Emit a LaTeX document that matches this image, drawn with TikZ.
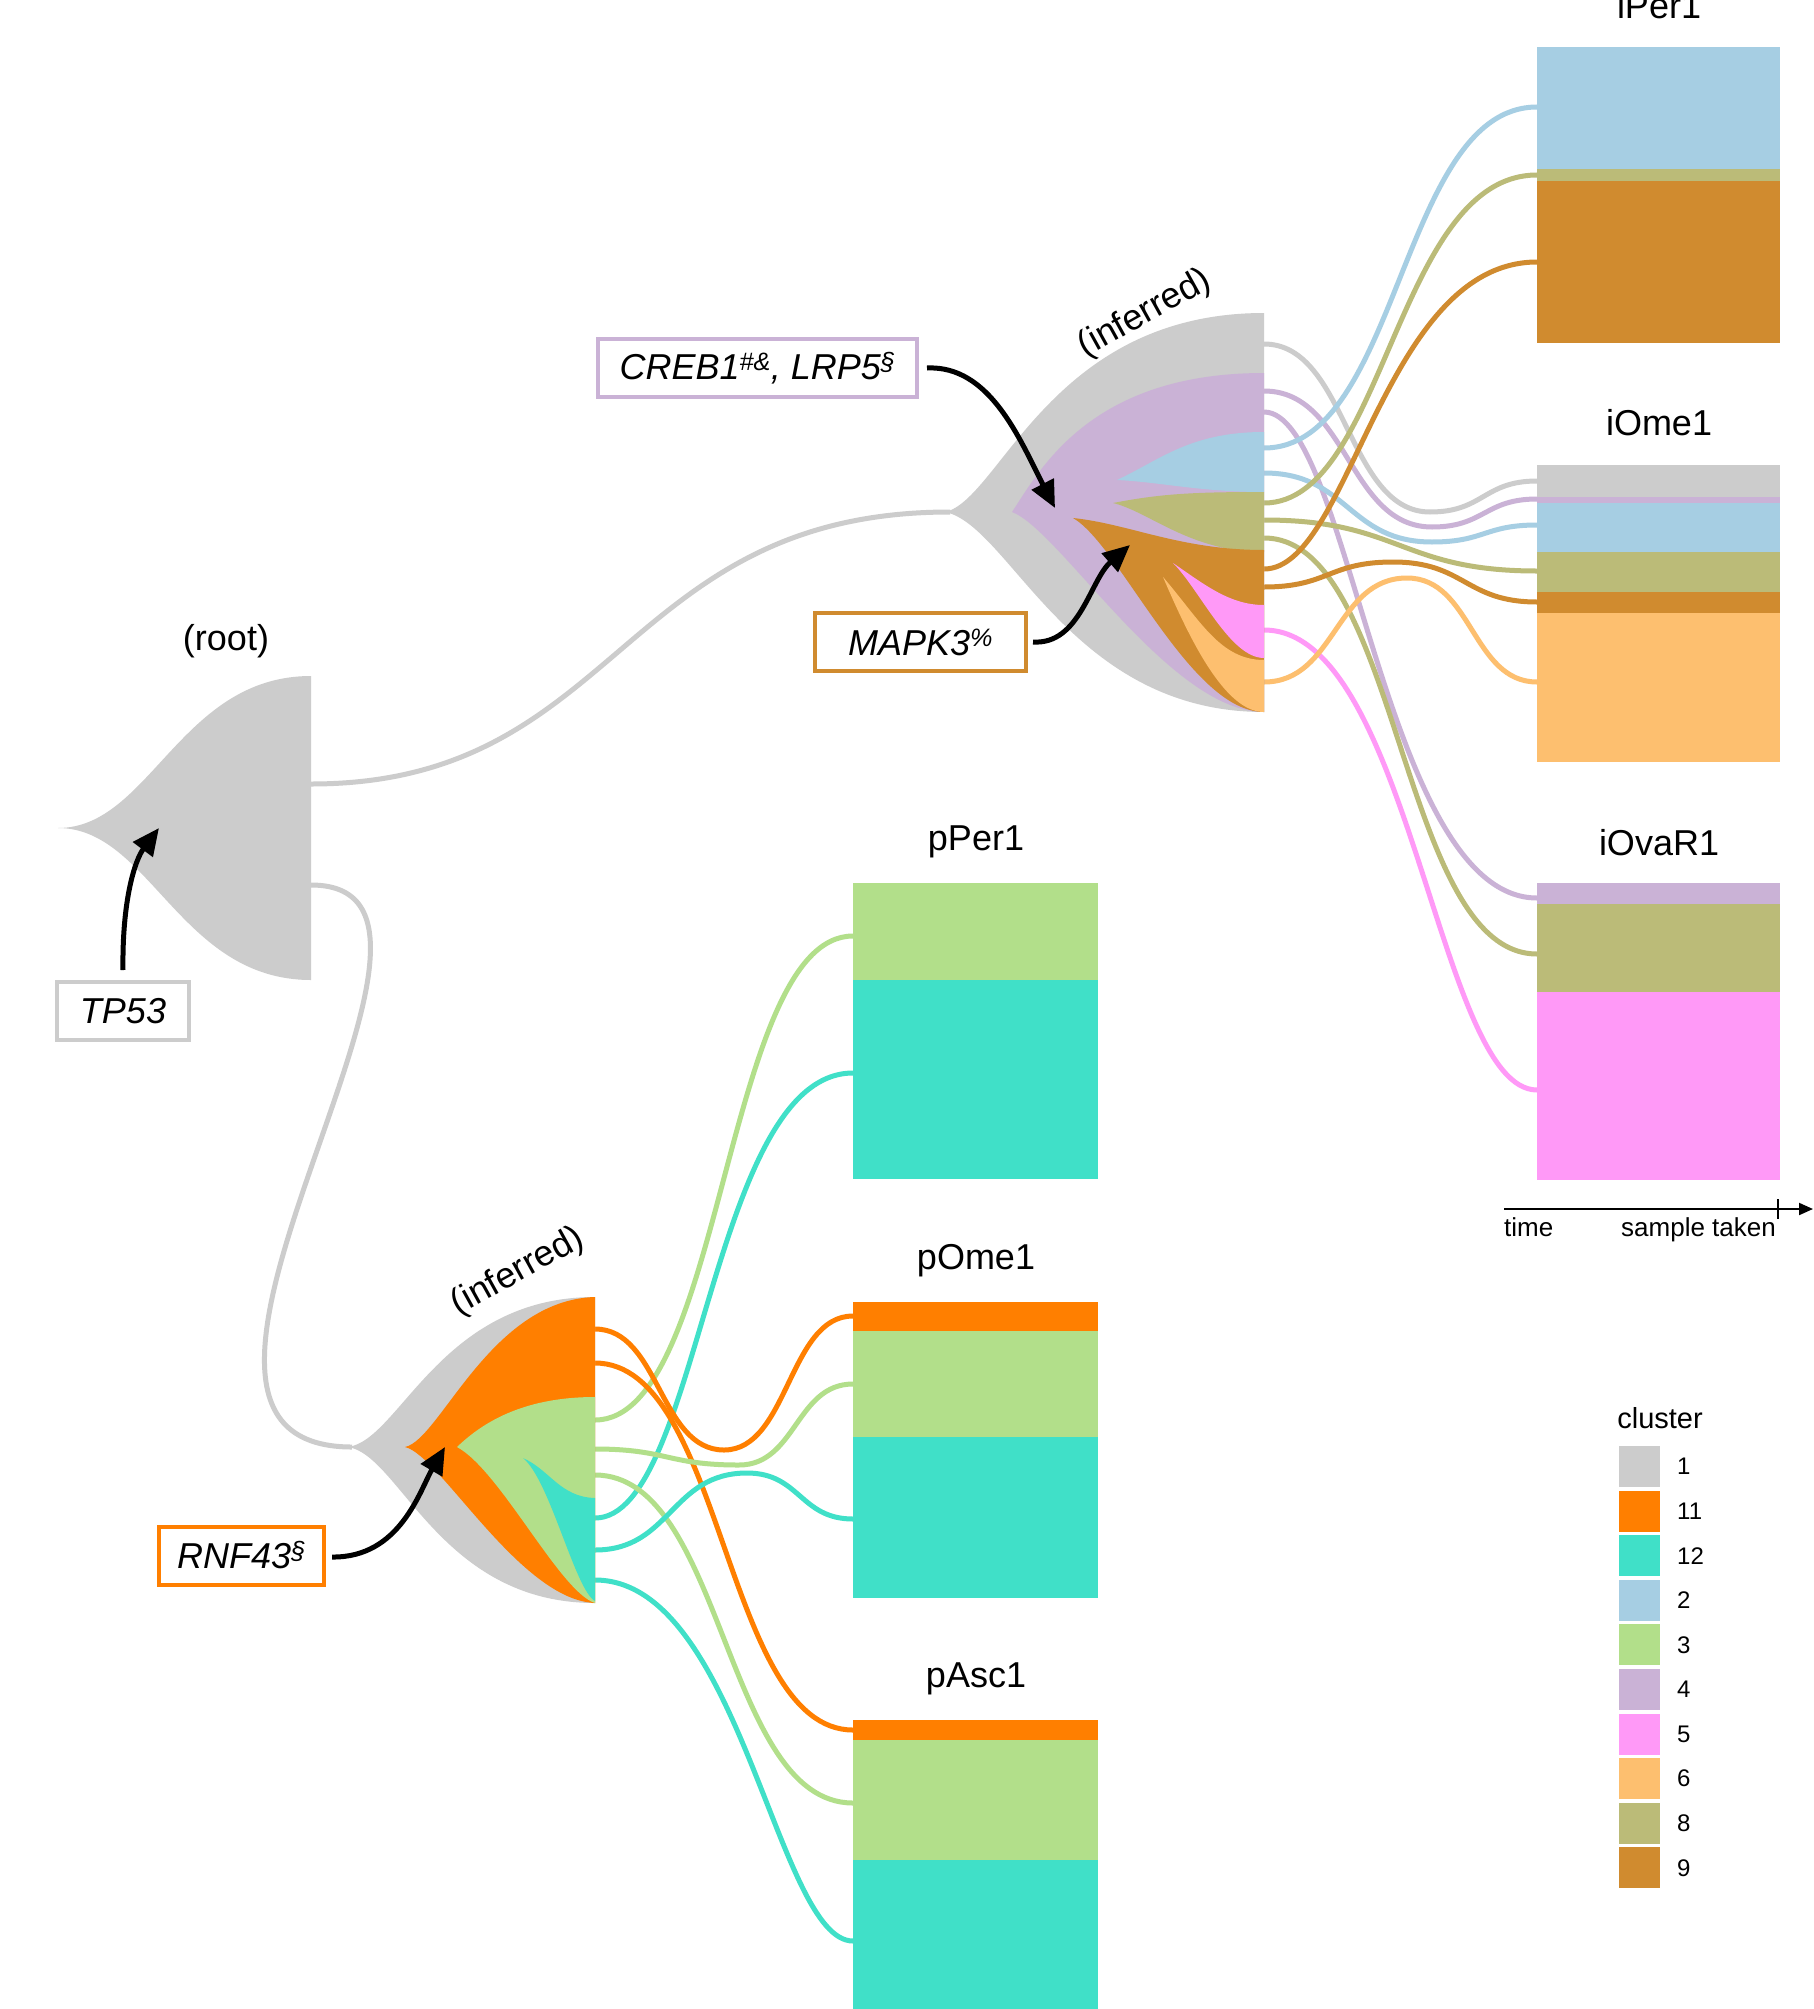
\documentclass[tikz,border=0pt]{standalone}
\usepackage{fontspec}
\setmainfont{Liberation Sans}
\usetikzlibrary{arrows.meta}
\definecolor{c1}{HTML}{CCCCCC}
\definecolor{c11}{HTML}{FF7F00}
\definecolor{c12}{HTML}{40E0C8}
\definecolor{c2}{HTML}{A6CEE3}
\definecolor{c3}{HTML}{B2DF8A}
\definecolor{c4}{HTML}{CAB2D6}
\definecolor{c5}{HTML}{FF99F7}
\definecolor{c6}{HTML}{FDBF6F}
\definecolor{c8}{HTML}{BBBB78}
\definecolor{c9}{HTML}{D08B2F}
% simple sigmoid link: colour, x0,y0, x1,y1, control-x near start, control-x near end
\newcommand\linkS[7]{\draw[flow,#1] (#2,#3) .. controls (#6,#3) and (#7,#5) .. (#4,#5);}
% link through a waypoint: colour, x0,y0, xw,yw, x1,y1
\newcommand\linkD[7]{\draw[flow,#1] (#2,#3) .. controls ({(#2+#4)/2},#3) and ({(#2+#4)/2},#5) .. (#4,#5) .. controls ({(#4+#6)/2},#5) and ({(#4+#6)/2},#7) .. (#6,#7);}
\tikzset{
  flow/.style={line width=5pt},
  lbl/.style={font=\fontsize{36}{43}\selectfont, inner sep=0pt},
  gene/.style={font=\fontsize{36}{43}\selectfont\itshape, line width=4pt, fill=white, minimum height=58pt, inner sep=0pt},
  mut/.style={line width=5pt, -{Triangle[length=27pt,width=24pt]}},
  small/.style={font=\fontsize{26}{31}\selectfont, inner sep=0pt},
}
\begin{document}
\begin{tikzpicture}[x=1pt,y=-1pt]
\useasboundingbox (0,0) rectangle (1813,2009);
\fill[white] (0,0) rectangle (1813,2009);

% ---------- links from root ----------
\draw[flow,c1] (311,784) .. controls (620,784) and (620,512) .. (950,512);
\draw[flow,c1] (311,885) .. controls (520,885) and (90,1447) .. (352,1447);

% ---------- links from upper inferred node ----------
\linkS{c4}{1264}{412}{1537}{898}{1350}{1383}
\linkS{c8}{1264}{538}{1537}{954}{1400}{1400}
\linkS{c5}{1264}{630}{1537}{1090}{1410}{1438}
\linkD{c1}{1264}{344}{1430}{512}{1537}{481}
\linkD{c4}{1264}{391}{1432}{527}{1537}{499}
\linkD{c2}{1264}{473}{1432}{542}{1537}{525}
\linkS{c8}{1264}{520}{1537}{571}{1400}{1400}
\linkD{c9}{1264}{587}{1393}{562}{1537}{602}
\linkD{c6}{1264}{682}{1407}{578}{1537}{682}
\linkS{c2}{1264}{448}{1537}{107}{1400}{1400}
\linkS{c8}{1264}{503}{1537}{175}{1385}{1396}
\linkS{c9}{1264}{569}{1537}{262}{1350}{1383}

% ---------- links from lower inferred node ----------
\linkS{c3}{595}{1420}{853}{936}{724}{724}
\linkS{c12}{595}{1518}{853}{1073}{700}{710}
\linkS{c11}{595}{1363}{853}{1730}{724}{724}
\linkS{c3}{595}{1475}{853}{1803}{724}{724}
\linkS{c12}{595}{1580}{853}{1941}{740}{777}
\linkD{c11}{595}{1329}{724}{1450}{853}{1316}
\linkD{c3}{595}{1449}{739}{1465}{853}{1384}
\linkD{c12}{595}{1550}{747}{1473}{853}{1519}

% ---------- root node ----------
\fill[c1] (58,828) .. controls (150,828) and (180,676) .. (311,676) -- (311,980) .. controls (180,980) and (150,828) .. cycle;
\node[lbl] (rootlbl) at (226,641) {(root)};

% ---------- upper inferred node ----------
\fill[c1] (945,512) .. controls (1000,500) and (1050,313) .. (1264,313) -- (1264,712) .. controls (1070,712) and (1010,525) .. cycle;
\fill[c4] (1012,512) .. controls (1040,470) and (1090,373) .. (1264,373) -- (1264,712) .. controls (1170,712) and (1060,530) .. cycle;
\fill[c2] (1117,480) .. controls (1160,460) and (1190,432) .. (1264,432) -- (1264,492) .. controls (1200,492) and (1160,482) .. cycle;
\fill[c8] (1113,503) .. controls (1160,494) and (1190,492) .. (1264,492) -- (1264,552) .. controls (1190,552) and (1150,512) .. cycle;
\fill[c9] (1073,518) .. controls (1130,524) and (1180,550) .. (1264,550) -- (1264,712) .. controls (1190,712) and (1120,545) .. cycle;
\fill[c6] (1163,577) .. controls (1200,620) and (1220,660) .. (1264,660) -- (1264,712) .. controls (1225,712) and (1190,640) .. cycle;
\fill[c5] (1173,563) .. controls (1205,585) and (1230,605) .. (1264,605) -- (1264,658) .. controls (1230,658) and (1200,590) .. cycle;
\node[lbl,rotate=29] (inflblU) at (1145,314) {(inferred)};

% ---------- lower inferred node ----------
\fill[c1] (348,1447) .. controls (400,1440) and (440,1297) .. (595,1297) -- (595,1603) .. controls (440,1603) and (400,1455) .. cycle;
\fill[c11] (405,1447) .. controls (440,1440) and (490,1300) .. (595,1297) -- (595,1603) .. controls (520,1600) and (440,1455) .. cycle;
\fill[c3] (457,1447) .. controls (480,1425) and (520,1397) .. (595,1397) -- (595,1603) .. controls (560,1592) and (500,1470) .. cycle;
\fill[c12] (523,1458) .. controls (550,1470) and (560,1497) .. (595,1498) -- (595,1601) .. controls (575,1590) and (550,1480) .. cycle;
\node[lbl,rotate=29] (inflblL) at (518,1272) {(inferred)};

% ---------- sample boxes (right) ----------
\fill[c2] (1537,47) rectangle (1780,169);
\fill[c8] (1537,169) rectangle (1780,181);
\fill[c9] (1537,181) rectangle (1780,343);
\node[lbl] (iPer) at (1659,6) {iPer1};

\fill[c1] (1537,465) rectangle (1780,497);
\fill[c4] (1537,497) rectangle (1780,503);
\fill[c2] (1537,503) rectangle (1780,552);
\fill[c8] (1537,552) rectangle (1780,592);
\fill[c9] (1537,592) rectangle (1780,613);
\fill[c6] (1537,613) rectangle (1780,762);
\node[lbl] (iOme) at (1659,423) {iOme1};

\fill[c4] (1537,883) rectangle (1780,904);
\fill[c8] (1537,904) rectangle (1780,992);
\fill[c5] (1537,992) rectangle (1780,1180);
\node[lbl] (iOva) at (1659,843) {iOvaR1};

% ---------- sample boxes (left) ----------
\fill[c3] (853,883) rectangle (1098,980);
\fill[c12] (853,980) rectangle (1098,1179);
\node[lbl] (pPer) at (976,842) {pPer1};

\fill[c11] (853,1302) rectangle (1098,1331);
\fill[c3] (853,1331) rectangle (1098,1437);
\fill[c12] (853,1437) rectangle (1098,1598);
\node[lbl] (pOme) at (976,1261) {pOme1};

\fill[c11] (853,1720) rectangle (1098,1740);
\fill[c3] (853,1740) rectangle (1098,1860);
\fill[c12] (853,1860) rectangle (1098,2020);
\node[lbl] (pAsc) at (976,1679) {pAsc1};

% ---------- gene boxes and arrows ----------
\node[gene,draw=c1,minimum width=132pt] (tp53) at (123,1011) {TP53};
\node[gene,draw=c4,minimum width=319pt] (creb) at (757.5,368) {CREB1\textsuperscript{\#\&}, LRP5\textsuperscript{\S}};
\node[gene,draw=c9,minimum width=211pt] (mapk) at (920.5,642) {MAPK3\textsuperscript{\%}};
\node[gene,draw=c11,minimum width=165pt] (rnf) at (241.5,1555.5) {RNF43\textsuperscript{\S}};

\coordinate (tipRoot) at (159,828);
\coordinate (tipCreb) at (1055,508);
\coordinate (tipMapk) at (1130,545);
\coordinate (tipRnf) at (445,1447);

\draw[mut] (123,970) .. controls (122,900) and (135,860) .. (tipRoot);
\draw[mut] (927,368) .. controls (990,365) and (1020,440) .. (tipCreb);
\draw[mut] (1033,642) .. controls (1080,645) and (1090,580) .. (tipMapk);
\draw[mut] (332,1557) .. controls (400,1558) and (420,1490) .. (tipRnf);

% ---------- time axis ----------
\coordinate (tstart) at (1504,1209);
\coordinate (tend) at (1813,1209);
\draw[line width=2pt,-{Triangle[length=14pt,width=12pt]}] (tstart) -- (tend);
\draw[line width=2pt] (1778,1199) -- (1778,1219);
\node[small,anchor=base west] (tlbl) at (1504,1236) {time};
\node[small,anchor=base east] (slbl) at (1776,1236) {sample taken};

% ---------- legend ----------
\node[font=\fontsize{29}{34}\selectfont, inner sep=0pt] (legtitle) at (1660,1418) {cluster};
\foreach \n/\c [count=\i from 0] in {1/c1,11/c11,12/c12,2/c2,3/c3,4/c4,5/c5,6/c6,8/c8,9/c9}{
  \fill[\c] (1619,{1446+44.6*\i}) rectangle (1660,{1487+44.6*\i});
  \node[font=\fontsize{24}{29}\selectfont, inner sep=0pt, anchor=west] (leg\i) at (1677,{1466.5+44.6*\i}) {\n};
}
\end{tikzpicture}
\end{document}
